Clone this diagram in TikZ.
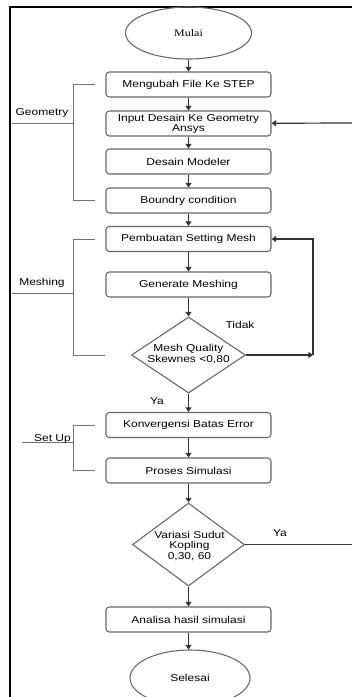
\documentclass[tikz,border=0pt]{standalone}
\usepackage{fontspec}
\setmainfont{Liberation Sans}[FakeStretch=1.2]
\newfontfamily\mulaifont{Liberation Serif}[FakeStretch=1.2]
\usepackage{tikz}
\usetikzlibrary{arrows.meta,calc,shapes.geometric}

\begin{document}
\begin{tikzpicture}[x=0.75pt,y=-0.75pt,
    font=\fontsize{7.5}{7.6}\selectfont,
    box/.style={draw=black!60,line width=0.8pt,rounded corners=2.5pt,
      minimum width=123.75pt,minimum height=18.75pt,inner sep=1pt,align=center},
    term/.style={ellipse,draw=black!60,line width=0.8pt,inner sep=0pt},
    dec/.style={diamond,draw=black!60,line width=0.8pt,inner sep=0pt},
    flow/.style={draw=black!80,line width=0.9pt,-{Triangle[length=3.5pt,width=4.5pt]}},
    brk/.style={draw=black!55,line width=0.7pt},
    lbl/.style={inner sep=0pt}]
  \useasboundingbox (0,0) rectangle (352,697);
  \clip (0,0) rectangle (352,697);
  % page frame (only top and left edge show)
  \draw[line width=1.5pt] (352,6.5) -- (10,6.5) -- (10,697);
  % main column
  \node[term,minimum width=94.5pt,minimum height=39pt] (mulai) at (188.5,33) {\mulaifont Mulai};
  \node[box] (ubah)    at (188.5,84.5)  {Mengubah File Ke STEP};
  \node[box] (input)   at (188.5,123.5) {Input Desain Ke Geometry\\Ansys};
  \node[box] (modeler) at (188.5,161.5) {Desain Modeler};
  \node[box] (bc)      at (188.5,200.5) {Boundry condition};
  \node[box] (setmesh) at (188.5,239)   {Pembuatan Setting Mesh};
  \node[box] (genmesh) at (188.5,284.5) {Generate Meshing};
  \node[dec,minimum width=85.5pt,minimum height=57pt] (quality) at (188.5,355) {};
  \node[lbl,align=center] (qtext) at (188.5,354) {Mesh Quality\\Skewnes <0,80};
  \node[box] (konv)    at (188.5,425)   {Konvergensi Batas Error};
  \node[box] (simul)   at (188.5,470.5) {Proses Simulasi};
  \node[dec,minimum width=84pt,minimum height=62.25pt] (variasi) at (188.5,544.5) {};
  \node[lbl,align=center] (vtext) at (189.5,546) {Variasi Sudut\\Kopling\\0,30, 60};
  \node[box] (analisa) at (188.5,619.5) {Analisa hasil simulasi};
  \node[term,minimum width=90pt,minimum height=42pt] (selesai) at (190,678) {Selesai};
  % straight flow
  \draw[flow] (mulai) -- (ubah);
  \draw[flow] (ubah) -- (input);
  \draw[flow] (input) -- (modeler);
  \draw[flow] (modeler) -- (bc);
  \draw[flow] (bc) -- (setmesh);
  \draw[flow] (setmesh) -- (genmesh);
  \draw[flow] (genmesh) -- (quality);
  \draw[flow] (quality) -- (konv);
  \draw[flow] (konv) -- (simul);
  \draw[flow] (simul) -- (variasi);
  \draw[flow] (variasi) -- (analisa);
  \draw[flow] (analisa.south) -- (analisa.south |- selesai.north);
  % loops back
  \coordinate (back) at (352,123);
  \coordinate (loop) at (313,355);
  \coordinate (exit) at (352,544.5);
  \draw[flow] (back) -- (input);
  \draw[flow] (quality) -- (loop);
  \draw[flow] (loop) |- (setmesh);
  \draw[draw=black!80,line width=0.9pt] (variasi.east) -- (exit);
  \node[lbl] (tidak) at (240,325) {Tidak};
  \node[lbl] (ya1)   at (157,401) {Ya};
  \node[lbl] (ya2)   at (280,533) {Ya};
  % brackets on the left
  \coordinate (bx) at (73,0);
  \coordinate (tx) at (95,0);
  \coordinate (ux) at (105,0);
  \draw[brk] (ubah -| tx) -| (bc -| bx) -- (bc -| tx);
  \draw[brk] (12,123) -- (73,123);
  \node[lbl] (geo) at (42,113) {Geometry};
  \draw[brk] (setmesh -| tx) -| (quality -| bx) -- (quality -| ux);
  \draw[brk] (12,293) -- (73,293);
  \node[lbl] (mesh) at (42,283) {Meshing};
  \draw[brk] (konv -| tx) -| (simul -| bx) -- (simul -| tx);
  \draw[brk] (22,442) -- (73,442);
  \node[lbl] (setup) at (52.5,439) {Set Up};
\end{tikzpicture}
\end{document}
